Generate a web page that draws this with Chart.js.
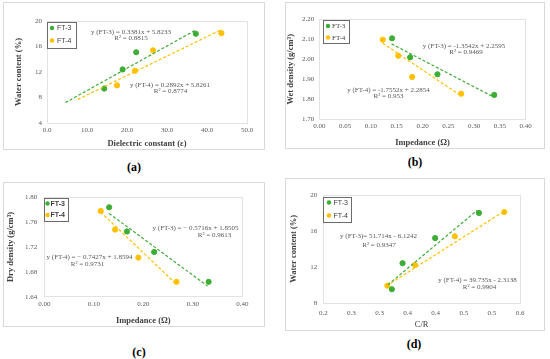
<!DOCTYPE html>
<html>
<head>
<meta charset="utf-8">
<script src="https://cdn.jsdelivr.net/npm/chart.js@4.4.0/dist/chart.umd.min.js"></script>
<style>
  body { margin: 0; width: 550px; height: 359px; background: #fff; position: relative; overflow: hidden; }
  .frame { position: absolute; border: 1px solid #d9d9d9; box-sizing: border-box; }
  canvas { position: absolute; }
  .tag { position: absolute; font: bold 12px "Liberation Serif", serif; color: #000; transform: translate(-50%, -50%); }
</style>
</head>
<body>
<div class="frame" id="fa"></div><canvas id="ca"></canvas>
<div class="frame" id="fb"></div><canvas id="cb"></canvas>
<div class="frame" id="fc"></div><canvas id="cc"></canvas>
<div class="frame" id="fd"></div><canvas id="cd"></canvas>
<div class="tag" style="left:134px;top:167px">(a)</div>
<div class="tag" style="left:415px;top:162px">(b)</div>
<div class="tag" style="left:139px;top:352px">(c)</div>
<div class="tag" style="left:414px;top:344px">(d)</div>
<script>
// --- data ---

// (a) water content vs dielectric constant
const aFT3x = [14.3, 18.9, 22.3, 37.2];
const aFT3y = [9.4, 12.4, 15.1, 18.0];
const aFT4x = [17.5, 22.0, 26.5, 43.6];
const aFT4y = [9.9, 12.2, 15.4, 18.1];
const aTrend3x = [4.6, 37.2], aTrend3y = [7.2, 18.6];
const aTrend4x = [7.7, 43.8], aTrend4y = [7.7, 18.7];

// (b) wet density vs impedance
const bFT3x = [0.141, 0.176, 0.229, 0.339];
const bFT3y = [2.105, 2.010, 1.925, 1.822];
const bFT4x = [0.123, 0.153, 0.180, 0.275];
const bFT4y = [2.098, 2.018, 1.912, 1.828];
const bTrend3x = [0.140, 0.339], bTrend3y = [2.077, 1.810];
const bTrend4x = [0.123, 0.275], bTrend4y = [2.080, 1.817];

// (c) dry density vs impedance
const cFT3x = [0.131, 0.167, 0.222, 0.332];
const cFT3y = [1.784, 1.745, 1.712, 1.664];
const cFT4x = [0.114, 0.143, 0.190, 0.267];
const cFT4y = [1.778, 1.748, 1.703, 1.664];
const cTrend3x = [0.131, 0.330], cTrend3y = [1.774, 1.657];
const cTrend4x = [0.114, 0.267], cTrend4y = [1.776, 1.660];

// (d) water content vs C/R
const dFT3x = [0.322, 0.341, 0.399, 0.477];
const dFT3y = [9.5, 12.4, 15.2, 18.0];
const dFT4x = [0.314, 0.363, 0.434, 0.522];
const dFT4y = [9.9, 12.2, 15.4, 18.1];
const dTrend3x = [0.315, 0.474], dTrend3y = [10.0, 18.3];
const dTrend4x = [0.313, 0.522], dTrend4y = [9.9, 18.2];
const dTickLabels = ['0.2', '0.3', '0.3', '0.4', '0.4', '0.5', '0.5', '0.6'];

const seriesNames = ['FT-3', 'FT-4'];

// --- look ---
const GREEN = '#3dad35';
const GOLD = '#ffc000';
const SERIF = '"Liberation Serif", "Times New Roman", serif';
const SANS = '"Liberation Sans", Arial, sans-serif';

const pts = (xs, ys) => xs.map((x, i) => ({ x, y: ys[i] }));

// plot frame, legend box and equation notes
const extras = {
  id: 'extras',
  beforeDatasetsDraw(chart, args, o) {
    const { ctx, chartArea: a } = chart;
    ctx.save();
    ctx.strokeStyle = '#e2e2e2';
    ctx.lineWidth = 1;
    ctx.strokeRect(Math.round(a.left) + 0.5, Math.round(a.top) + 0.5, Math.round(a.width), Math.round(a.height));
    ctx.restore();
  },
  afterDraw(chart, args, o) {
    const ctx = chart.ctx;
    const [bx, by] = o.box;
    ctx.save();
    // legend
    const [lx, ly, lw, lh] = o.legend.rect;
    ctx.fillStyle = '#fff';
    ctx.fillRect(lx - bx, ly - by, lw, lh);
    ctx.strokeStyle = '#6b6b6b';
    ctx.lineWidth = 1;
    ctx.strokeRect(Math.round(lx - bx) + 0.5, Math.round(ly - by) + 0.5, lw, lh);
    ctx.font = o.legend.font;
    ctx.textBaseline = 'middle';
    ctx.textAlign = 'left';
    [GREEN, GOLD].forEach((c, i) => {
      const ey = o.legend.rows[i] - by;
      ctx.fillStyle = c;
      ctx.beginPath();
      ctx.arc(o.legend.dot - bx, ey, 2.2, 0, Math.PI * 2);
      ctx.fill();
      ctx.fillStyle = '#404040';
      ctx.fillText(seriesNames[i], o.legend.text - bx, ey + 0.5);
    });
    // equations
    ctx.fillStyle = '#595959';
    ctx.font = '7px ' + SERIF;
    ctx.textAlign = 'center';
    o.notes.forEach(n => ctx.fillText(n[0], n[1] - bx, n[2] - by));
    ctx.restore();
  }
};

function makeChart(id, p) {
  const [bx, by, bw, bh] = p.box;
  const [al, at, ar, ab] = p.area;
  const frame = document.getElementById('f' + id);
  Object.assign(frame.style, { left: bx + 'px', top: by + 'px', width: bw + 'px', height: bh + 'px' });
  const cv = document.getElementById('c' + id);
  cv.width = bw; cv.height = bh;
  Object.assign(cv.style, { left: bx + 'px', top: by + 'px' });

  const tickFont = { family: SERIF, size: 7 };
  const titleFont = { family: SERIF, size: 8.5, weight: 'bold' };
  const yW = al - bx;
  const xH = by + bh - ab;

  return new Chart(cv, {
    type: 'scatter',
    data: {
      datasets: [
        { data: p.trend3, type: 'line', borderColor: GREEN, borderWidth: 1.2, borderDash: [3, 2], pointRadius: 0, fill: false },
        { data: p.trend4, type: 'line', borderColor: GOLD, borderWidth: 1.2, borderDash: [3, 2], pointRadius: 0, fill: false },
        { data: p.ft3, backgroundColor: GREEN, borderColor: GREEN, pointRadius: 2.6 },
        { data: p.ft4, backgroundColor: GOLD, borderColor: GOLD, pointRadius: 2.6 }
      ]
    },
    options: {
      responsive: false,
      animation: false,
      events: [],
      layout: { padding: { left: 0, top: at - by, right: bx + bw - ar, bottom: 0 } },
      plugins: {
        legend: { display: false },
        tooltip: { enabled: false },
        extras: { box: [bx, by], legend: p.legend, notes: p.notes }
      },
      scales: {
        x: {
          type: 'linear', min: p.x.min, max: p.x.max,
          grid: { display: false, drawTicks: false },
          border: { display: false },
          ticks: {
            stepSize: p.x.step, font: tickFont, color: '#595959', padding: p.x.pad,
            maxRotation: 0, autoSkip: false, includeBounds: false,
            callback: p.x.fmt
          },
          title: { display: true, text: p.x.title, font: p.x.titleFont || titleFont, color: '#404040',
                   padding: { top: 0, bottom: p.x.titlePad } },
          afterFit: s => { s.height = xH; }
        },
        y: {
          type: 'linear', min: p.y.min, max: p.y.max,
          grid: { display: false, drawTicks: false },
          border: { display: false },
          ticks: { stepSize: p.y.step, font: tickFont, color: '#595959', padding: p.y.pad, callback: p.y.fmt },
          title: { display: true, text: p.y.title, font: titleFont, color: '#404040',
                   padding: { top: p.y.titlePad, bottom: 0 } },
          afterFit: s => { s.width = yW; }
        }
      }
    },
    plugins: [extras]
  });
}

makeChart('a', {
  box: [3, 2, 262, 148], area: [47, 21, 247, 123],
  ft3: pts(aFT3x, aFT3y), ft4: pts(aFT4x, aFT4y),
  trend3: pts(aTrend3x, aTrend3y), trend4: pts(aTrend4x, aTrend4y),
  x: { min: 0, max: 50, step: 10, pad: 3, fmt: v => v.toFixed(1), title: 'Dielectric constant (\u03b5)', titlePad: 1 },
  y: { min: 4, max: 20, step: 4, pad: 5, fmt: v => v, title: 'Water content (%)', titlePad: 11 },
  legend: { rect: [47, 22, 29, 26], font: '7px ' + SANS, dot: 52, text: 57, rows: [28, 40.5] },
  notes: [
    ['y (FT-3) = 0.3381x + 5.8233', 131, 32], ['R\u00b2 = 0.8815', 131, 38.5],
    ['y (FT-4) = 0.2892x + 5.8261', 170, 85], ['R\u00b2 = 0.8774', 170.5, 91.5]
  ]
});

makeChart('b', {
  box: [285, 2, 260, 147], area: [319.3, 19.3, 525.7, 119.3],
  ft3: pts(bFT3x, bFT3y), ft4: pts(bFT4x, bFT4y),
  trend3: pts(bTrend3x, bTrend3y), trend4: pts(bTrend4x, bTrend4y),
  x: { min: 0, max: 0.4, step: 0.05, pad: 3, fmt: v => v.toFixed(2), title: 'Impedance (\u03a9)', titlePad: 1 },
  y: { min: 1.7, max: 2.2, step: 0.1, pad: 5, fmt: v => v.toFixed(2), title: 'Wet density (g/cm\u00b3)', titlePad: 1 },
  legend: { rect: [323, 20, 26, 23], font: '7px ' + SERIF, dot: 328, text: 332, rows: [26, 37.5] },
  notes: [
    ['y (FT-3) = -1.3542x + 2.2595', 464, 46], ['R\u00b2 = 0.9469', 466, 52.5],
    ['y (FT-4) = -1.7552x + 2.2854', 388.5, 90], ['R\u00b2 = 0.953', 388.5, 96.5]
  ]
});

makeChart('c', {
  box: [3, 182, 262, 145], area: [44.3, 197.3, 242.3, 296.7],
  ft3: pts(cFT3x, cFT3y), ft4: pts(cFT4x, cFT4y),
  trend3: pts(cTrend3x, cTrend3y), trend4: pts(cTrend4x, cTrend4y),
  x: { min: 0, max: 0.4, step: 0.1, pad: 3, fmt: v => v.toFixed(2), title: 'Impedance (\u03a9)', titlePad: 1 },
  y: { min: 1.64, max: 1.8, step: 0.04, pad: 7, fmt: v => v.toFixed(2), title: 'Dry density (g/cm\u00b3)', titlePad: 3 },
  legend: { rect: [44, 198, 24, 23], font: 'bold 7px ' + SANS, dot: 47.5, text: 50.5, rows: [203.5, 215] },
  notes: [
    ['y (FT-3) = \u2212 0.5716x + 1.8505', 195.5, 228.5], ['R\u00b2 = 0.9613', 214.5, 235],
    ['y (FT-4) = \u2212 0.7427x + 1.8594', 89.5, 257.5], ['R\u00b2 = 0.9731', 87.5, 264]
  ]
});

makeChart('d', {
  box: [285, 178, 260, 153], area: [323.3, 195, 520, 302.7],
  ft3: pts(dFT3x, dFT3y), ft4: pts(dFT4x, dFT4y),
  trend3: pts(dTrend3x, dTrend3y), trend4: pts(dTrend4x, dTrend4y),
  x: { min: 0.2, max: 0.55, step: 0.05, pad: 6, fmt: (v, i) => dTickLabels[i], title: 'C/R', titlePad: 1,
       titleFont: { family: SERIF, size: 8.5 } },
  y: { min: 8, max: 20, step: 4, pad: 6, fmt: v => v, title: 'Water content (%)', titlePad: 4 },
  legend: { rect: [323, 197, 28, 25], font: '7px ' + SANS, dot: 329, text: 333.5, rows: [202.5, 215.5] },
  notes: [
    ['y (FT-3)= 51.714x - 6.1242', 378.5, 236.5], ['R\u00b2 = 0.9347', 379, 245],
    ['y (FT-4) = 39.735x - 2.3138', 477.5, 280], ['R\u00b2 = 0.9904', 479.5, 287.5]
  ]
});
</script>
</body>
</html>
